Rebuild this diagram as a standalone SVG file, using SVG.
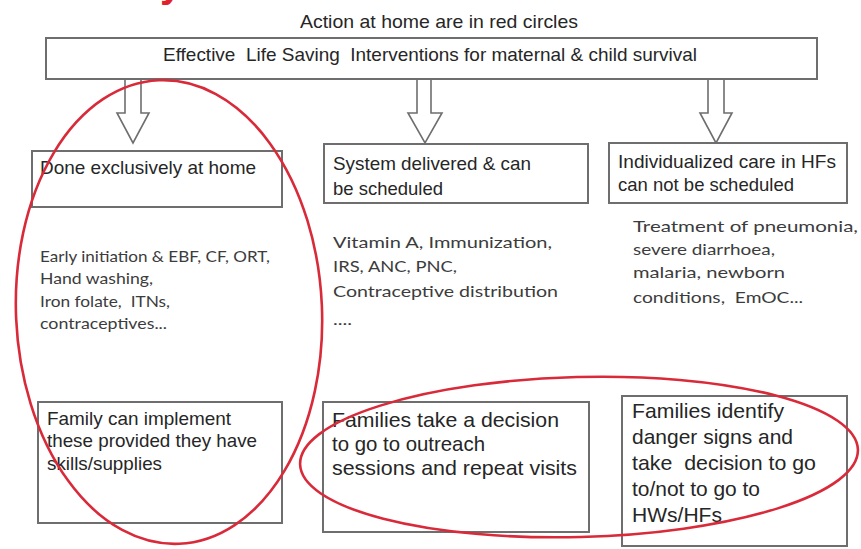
<svg xmlns="http://www.w3.org/2000/svg" width="861" height="549" viewBox="0 0 861 549">
<style>
.box{fill:#fff;stroke:#6e6e6e;stroke-width:2}
.arr{fill:#fff;stroke:#6e6e6e;stroke-width:1.6;stroke-linejoin:miter}
.t{font-family:"Liberation Sans",Arial,sans-serif;fill:#262626;white-space:pre}
.h{font-size:19px}
.b{font-size:21px}
.c{font-family:Lato,"Open Sans","Liberation Sans",sans-serif;fill:#3c3c3c;white-space:pre}
.red{fill:none;stroke:#d92a3a;stroke-width:2.6}
</style>
<rect width="861" height="549" fill="#fff"/>
<text x="160" y="-3" style="font-family:'Liberation Sans',Arial,sans-serif;font-weight:bold;font-size:40px;fill:#e0202a">y</text>
<text class="t" x="439" y="28" text-anchor="middle" style="font-size:19px" textLength="278" lengthAdjust="spacingAndGlyphs">Action at home are in red circles</text>
<g id="top">
<rect class="box" x="46" y="38" width="771" height="41"/>
<text class="t" x="430" y="61" text-anchor="middle" style="font-size:19px" textLength="534" lengthAdjust="spacingAndGlyphs">Effective  Life Saving  Interventions for maternal &amp; child survival</text>
</g>
<g id="connectors">
<path class="arr" d="M125 80 V113 H117 L133 143 L149 113 H141 V80"/>
<path class="arr" d="M417 80 V113 H408 L425 143 L442 113 H431 V80"/>
<path class="arr" d="M708 80 V113 H700 L716 143 L732 113 H724 V80"/>
</g>
<g id="home">
<rect class="box" x="32" y="151" width="250" height="56"/>
<text class="t h" x="40" y="174" textLength="216" lengthAdjust="spacingAndGlyphs">Done exclusively at home</text>
</g>
<g id="system">
<rect class="box" x="324" y="144" width="264" height="59"/>
<text class="t h" x="333" y="170" textLength="198" lengthAdjust="spacingAndGlyphs">System delivered &amp; can</text>
<text class="t h" x="333" y="195" textLength="110" lengthAdjust="spacingAndGlyphs">be scheduled</text>
</g>
<g id="individual">
<rect class="box" x="609" y="143" width="238" height="60"/>
<text class="t h" x="618" y="168" textLength="218" lengthAdjust="spacingAndGlyphs">Individualized care in HFs</text>
<text class="t h" x="618" y="191" textLength="176" lengthAdjust="spacingAndGlyphs">can not be scheduled</text>
</g>
<g id="home-list">
<text class="c" x="40" y="262" style="font-size:15px" textLength="230" lengthAdjust="spacingAndGlyphs">Early initiation &amp; EBF, CF, ORT,</text>
<text class="c" x="40" y="284" style="font-size:15px" textLength="113" lengthAdjust="spacingAndGlyphs">Hand washing,</text>
<text class="c" x="40" y="307" style="font-size:15px" textLength="130" lengthAdjust="spacingAndGlyphs">Iron folate,  ITNs,</text>
<text class="c" x="40" y="329" style="font-size:15px" textLength="127" lengthAdjust="spacingAndGlyphs">contraceptives...</text>
</g>
<g id="system-list">
<text class="c" x="333" y="248" style="font-size:16px" textLength="219" lengthAdjust="spacingAndGlyphs">Vitamin A, Immunization,</text>
<text class="c" x="333" y="272" style="font-size:16px" textLength="124" lengthAdjust="spacingAndGlyphs">IRS, ANC, PNC,</text>
<text class="c" x="333" y="297" style="font-size:16px" textLength="225" lengthAdjust="spacingAndGlyphs">Contraceptive distribution</text>
<text class="c" x="333" y="325" style="font-size:16px" textLength="19" lengthAdjust="spacingAndGlyphs">....</text>
</g>
<g id="individual-list">
<text class="c" x="633" y="232" style="font-size:16px" textLength="225" lengthAdjust="spacingAndGlyphs">Treatment of pneumonia,</text>
<text class="c" x="633" y="255" style="font-size:16px" textLength="142" lengthAdjust="spacingAndGlyphs">severe diarrhoea,</text>
<text class="c" x="633" y="278" style="font-size:16px" textLength="152" lengthAdjust="spacingAndGlyphs">malaria, newborn</text>
<text class="c" x="633" y="303" style="font-size:16px" textLength="170" lengthAdjust="spacingAndGlyphs">conditions,  EmOC...</text>
</g>
<g id="family">
<rect class="box" x="38" y="402" width="244" height="121"/>
<text class="t h" x="47" y="425" textLength="184" lengthAdjust="spacingAndGlyphs">Family can implement</text>
<text class="t h" x="47" y="447" textLength="210" lengthAdjust="spacingAndGlyphs">these provided they have</text>
<text class="t h" x="47" y="470" textLength="115" lengthAdjust="spacingAndGlyphs">skills/supplies</text>
</g>
<g id="outreach">
<rect class="box" x="323" y="402" width="266" height="130"/>
<text class="t b" x="332" y="427" textLength="227" lengthAdjust="spacingAndGlyphs">Families take a decision</text>
<text class="t b" x="332" y="451" textLength="153" lengthAdjust="spacingAndGlyphs">to go to outreach</text>
<text class="t b" x="332" y="475" textLength="245" lengthAdjust="spacingAndGlyphs">sessions and repeat visits</text>
</g>
<g id="danger">
<rect class="box" x="622" y="396" width="225" height="150"/>
<text class="t b" x="632" y="418" textLength="152" lengthAdjust="spacingAndGlyphs">Families identify</text>
<text class="t b" x="632" y="444" textLength="161" lengthAdjust="spacingAndGlyphs">danger signs and</text>
<text class="t b" x="632" y="470" textLength="184" lengthAdjust="spacingAndGlyphs">take  decision to go</text>
<text class="t b" x="632" y="496" textLength="128" lengthAdjust="spacingAndGlyphs">to/not to go to</text>
<text class="t b" x="632" y="522" textLength="90" lengthAdjust="spacingAndGlyphs">HWs/HFs</text>
</g>
<g id="red-circles">
<ellipse class="red" cx="169" cy="312" rx="153" ry="232" transform="rotate(-2.5 169 312)"/>
<ellipse class="red" cx="579" cy="457" rx="279" ry="80" transform="rotate(-1.5 579 457)"/>
</g>
</svg>
